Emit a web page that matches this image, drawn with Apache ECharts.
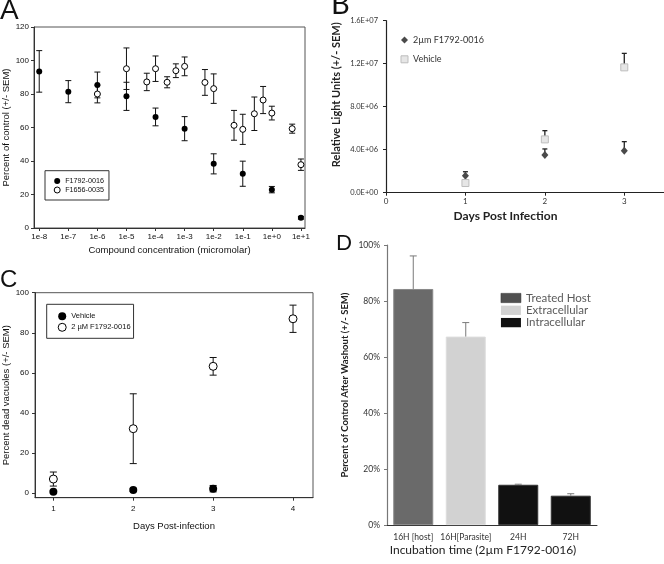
<!DOCTYPE html>
<html><head><meta charset="utf-8">
<script src="https://cdn.jsdelivr.net/npm/echarts@6/dist/echarts.min.js"></script>
<style>html,body{margin:0;padding:0;background:#fff}#c{width:664px;height:564px}</style>
</head><body><div id="c"></div>
<script>
// ---------- Panel A ----------
const aTickConc = [1e-8,1e-7,1e-6,1e-5,1e-4,1e-3,1e-2,1e-1,1,10];
const aTickLabels = ['1e-8','1e-7','1e-6','1e-5','1e-4','1e-3','1e-2','1e-1','1e+0','1e+1'];
const aConcF = [1e-8,1e-7,1e-6,1e-5,1e-4,1e-3,1e-2,1e-1,1,10];
const aValF  = [93.5,81.4,85.4,78.6,66.3,59.3,38.3,32.4,22.9,6.1];
const aErrF  = [12.4,6.6,7.7,8.4,5.3,7.2,6.0,7.5,1.9,0.8];
const aConcO = [1e-6,1e-5,5e-5,1e-4,2.5e-4,5e-4,1e-3,5e-3,1e-2,5e-2,1e-1,0.25,0.5,1,5,10];
const aValO  = [80.0,95.1,87.2,95.1,87.0,93.9,96.5,86.9,83.2,61.3,58.9,68.2,76.4,68.6,59.3,37.8];
const aErrO  = [5.3,12.4,5.2,7.6,3.3,4.1,5.6,7.7,8.8,8.9,9.0,10.0,8.1,4.1,2.7,3.4];
// ---------- Panel B ----------
const bDays = [1,2,3];
const bDrug = [1.58e6,3.51e6,3.91e6];
const bDrugErr = [0.37e6,0.56e6,0.84e6];
const bVeh = [0.9e6,4.96e6,1.166e7];
const bVehErr = [0.2e6,0.81e6,1.3e6];
// ---------- Panel C ----------
const cDaysVeh = [1,2,3];
const cVeh = [0.8,1.7,2.3];
const cVehErr = [0.5,0.8,1.6];
const cDaysDrug = [1,2,3,4];
const cDrug = [7.1,32.2,63.3,87.0];
const cDrugErr = [3.5,17.4,4.4,6.8];
const cTicksX = [1,2,3,4];
const cTicksY = [0,20,40,60,80,100];
// ---------- Panel D ----------
const dCats = ['16H [host]','16H[Parasite]','24H','72H'];
const dVals = [84.3,67.3,14.4,10.5];
const dErr  = [11.8,5.0,0.2,0.7];
const dGroup = ['Treated Host','Extracellular','Intracellular','Intracellular'];
const dGroups = ['Treated Host','Extracellular','Intracellular'];
const dColors = {'Treated Host':'#6a6a6a','Extracellular':'#d2d2d2','Intracellular':'#111111'};

const ARIAL = 'Liberation Sans';
const CAL = 'Lato';

function errSeries(xIdx, yIdx, xs, ys, errs, o) {
  return {
    type: 'custom', xAxisIndex: xIdx, yAxisIndex: yIdx, z: o.z || 1, silent: true,
    data: xs.map((x, i) => [x, ys[i], o.plusOnly ? ys[i] : ys[i] - errs[i], ys[i] + errs[i]]),
    encode: {x: 0, y: [1, 2, 3]},
    renderItem(params, api) {
      const x = api.value(0);
      const lo = api.coord([x, api.value(2)]);
      const hi = api.coord([x, api.value(3)]);
      const hw = o.cap / 2;
      const st = {stroke: o.color, lineWidth: o.lw || 1};
      const ch = [
        {type: 'line', shape: {x1: hi[0], y1: lo[1], x2: hi[0], y2: hi[1]}, style: st},
        {type: 'line', shape: {x1: hi[0] - hw, y1: hi[1], x2: hi[0] + hw, y2: hi[1]}, style: st}
      ];
      if (!o.plusOnly) ch.push({type: 'line', shape: {x1: lo[0] - hw, y1: lo[1], x2: lo[0] + hw, y2: lo[1]}, style: st});
      return {type: 'group', children: ch};
    }
  };
}

function sci(v) {
  if (v === 0) return '0.0E+00';
  const e = Math.floor(Math.log10(v) + 1e-9);
  const m = v / Math.pow(10, e);
  return m.toFixed(1) + 'E+' + (e < 10 ? '0' : '') + e;
}

const lg = v => Math.log10(v);
const aTickVals = aTickConc.map(lg);

const option = {
  animation: false,
  backgroundColor: '#fff',
  textStyle: {fontFamily: ARIAL},
  graphic: [
    {type: 'text', left: 0, top: -3, style: {text: 'A', font: '28px "Liberation Sans"', fill: '#111'}},
    {type: 'text', left: 331, top: -10, style: {text: 'B', font: '29px Lato', fill: '#111'}},
    {type: 'text', left: 0, top: 268, style: {text: 'C', font: '24px "Liberation Sans"', fill: '#111'}},
    {type: 'text', left: 336, top: 233, style: {text: 'D', font: '21px Lato', fill: '#111'}}
  ],
  grid: [
    {left: 33, top: 27, width: 272, height: 201, show: true, borderColor: '#555', borderWidth: 1, backgroundColor: 'transparent'},
    {left: 386, top: 20.7, width: 279, height: 172},
    {left: 35, top: 292.7, width: 278, height: 205, show: true, borderColor: '#555', borderWidth: 1, backgroundColor: 'transparent'},
    {left: 387, top: 245, width: 210, height: 287}
  ],
  xAxis: [
    {gridIndex: 0, type: 'value', min: -8.18, max: 1.14,
     axisLine: {onZero: false, lineStyle: {color: '#333'}}, splitLine: {show: false},
     axisTick: {customValues: aTickVals, length: 3, lineStyle: {color: '#333'}},
     axisLabel: {customValues: aTickVals, formatter: v => aTickLabels[aTickVals.findIndex(t => Math.abs(t - v) < 1e-6)], fontSize: 8, color: '#111', margin: 5},
     name: 'Compound concentration (micromolar)', nameLocation: 'middle', nameGap: 17,
     nameTextStyle: {fontSize: 9.5, color: '#111', fontFamily: ARIAL}},
    {gridIndex: 1, type: 'value', min: 0, max: 3.5,
     axisLine: {onZero: false, lineStyle: {color: '#222', width: 1.2}}, splitLine: {show: false},
     axisTick: {customValues: [0,1,2,3], length: 3, lineStyle: {color: '#222'}},
     axisLabel: {customValues: [0,1,2,3], fontSize: 8, color: '#333', margin: 5, fontFamily: CAL},
     name: 'Days Post Infection', nameLocation: 'middle', nameGap: 17,
     nameTextStyle: {fontSize: 12, fontWeight: 'bold', color: '#222', fontFamily: CAL, padding: [0, 39, 0, 0]}},
    {gridIndex: 2, type: 'value', min: 0.77, max: 4.25,
     axisLine: {onZero: false, lineStyle: {color: '#333'}}, splitLine: {show: false},
     axisTick: {customValues: cTicksX, length: 3, lineStyle: {color: '#333'}},
     axisLabel: {customValues: cTicksX, fontSize: 8, color: '#111', margin: 7},
     name: 'Days Post-infection', nameLocation: 'middle', nameGap: 24,
     nameTextStyle: {fontSize: 9.5, color: '#111', fontFamily: ARIAL}},
    {gridIndex: 3, type: 'category', data: dCats,
     axisLine: {onZero: false, lineStyle: {color: '#333', width: 1}}, axisTick: {show: false},
     axisLabel: {fontSize: 8.5, color: '#333', margin: 8, fontFamily: CAL, interval: 0},
     name: 'Incubation time (2µm F1792-0016)', nameLocation: 'middle', nameGap: 19,
     nameTextStyle: {fontSize: 12, color: '#222', fontFamily: CAL, padding: [0, 18, 0, 0]}}
  ],
  yAxis: [
    {gridIndex: 0, type: 'value', min: 0, max: 120, interval: 20,
     axisLine: {show: true, onZero: false, lineStyle: {color: '#333'}}, splitLine: {show: false},
     axisTick: {show: true, length: 3, lineStyle: {color: '#333'}},
     axisLabel: {fontSize: 8, color: '#111', margin: 5},
     name: 'Percent of control (+/- SEM)', nameLocation: 'middle', nameGap: 23,
     nameTextStyle: {fontSize: 9.5, color: '#111', fontFamily: ARIAL}},
    {gridIndex: 1, type: 'value', min: 0, max: 1.6e7, interval: 4e6,
     axisLine: {show: true, onZero: false, lineStyle: {color: '#222', width: 1.2}}, splitLine: {show: false},
     axisTick: {show: true, length: 3, lineStyle: {color: '#222'}},
     axisLabel: {formatter: sci, fontSize: 7.5, color: '#333', margin: 8, fontFamily: CAL},
     name: 'Relative Light Units (+/- SEM)', nameLocation: 'middle', nameGap: 44,
     nameTextStyle: {fontSize: 11, fontWeight: 'bold', color: '#222', fontFamily: CAL, padding: [0, 0, 0, 24]}},
    {gridIndex: 2, type: 'value', min: -2.2, max: 100,
     axisLine: {show: true, onZero: false, lineStyle: {color: '#333'}}, splitLine: {show: false},
     axisTick: {show: true, customValues: cTicksY, length: 3, lineStyle: {color: '#333'}},
     axisLabel: {customValues: cTicksY, fontSize: 8, color: '#111', margin: 6},
     name: 'Percent dead vacuoles (+/- SEM)', nameLocation: 'middle', nameGap: 24,
     nameTextStyle: {fontSize: 9.5, color: '#111', fontFamily: ARIAL}},
    {gridIndex: 3, type: 'value', min: 0, max: 100, interval: 20,
     axisLine: {show: true, onZero: false, lineStyle: {color: '#777', width: 1.2}}, splitLine: {show: false},
     axisTick: {show: true, length: 3, lineStyle: {color: '#777'}},
     axisLabel: {formatter: '{value}%', fontSize: 8.5, color: '#333', margin: 7, fontFamily: CAL},
     name: 'Percent of Control After Washout (+/- SEM)', nameLocation: 'middle', nameGap: 37,
     nameTextStyle: {fontSize: 9.5, fontWeight: 'bold', color: '#222', fontFamily: CAL}}
  ],
  legend: [
    {selectedMode: false, orient: 'vertical', left: 45, top: 170.7,
     padding: [6.3, 5, 6, 8.7], itemWidth: 6, itemHeight: 6, itemGap: 1, itemTextGap: 8,
     borderColor: '#333', borderWidth: 1,
     textStyle: {fontSize: 7.2, lineHeight: 8, color: '#111', fontFamily: ARIAL},
     data: [
       {name: 'F1792-0016', icon: 'circle', itemStyle: {color: '#000', borderWidth: 0}},
       {name: 'F1656-0035', icon: 'circle', itemStyle: {color: '#fff', borderColor: '#000', borderWidth: 1}}
     ]},
    {selectedMode: false, orient: 'vertical', left: 400.5, top: 35,
     padding: 0, itemWidth: 7, itemHeight: 7, itemGap: 9.3, itemTextGap: 2,
     textStyle: {fontSize: 9, lineHeight: 10, color: '#333', fontFamily: CAL},
     data: [
       {name: '2µm F1792-0016', icon: 'diamond', itemStyle: {color: '#4a4a4a'}},
       {name: 'Vehicle', icon: 'rect', itemStyle: {color: '#e6e6e6', borderColor: '#bdbdbd', borderWidth: 1}}
     ]},
    {selectedMode: false, orient: 'vertical', left: 46.7, top: 304.3,
     padding: [7.5, 3, 6.5, 11], itemWidth: 8, itemHeight: 8, itemGap: 2, itemTextGap: 7.6,
     borderColor: '#333', borderWidth: 1,
     textStyle: {fontSize: 7.5, lineHeight: 9, color: '#111', fontFamily: ARIAL},
     data: [
       {name: 'Vehicle', icon: 'circle', itemStyle: {color: '#000', borderWidth: 0}},
       {name: '2 µM F1792-0016', icon: 'circle', itemStyle: {color: '#fff', borderColor: '#000', borderWidth: 1}}
     ]},
    {selectedMode: false, orient: 'vertical', left: 500.7, top: 292,
     padding: 0, itemWidth: 20, itemHeight: 9.3, itemGap: 0.3, itemTextGap: 3.5,
     textStyle: {fontSize: 11.5, lineHeight: 12, color: '#5a5a5a', fontFamily: CAL},
     data: [
       {name: 'Treated Host', icon: 'rect', itemStyle: {color: '#505050', borderColor: '#333', borderWidth: 0.5}},
       {name: 'Extracellular', icon: 'rect', itemStyle: {color: '#d2d2d2', borderWidth: 0}},
       {name: 'Intracellular', icon: 'rect', itemStyle: {color: '#111', borderWidth: 0}}
     ]}
  ],
  series: [
    // A
    errSeries(0, 0, aConcF.map(lg), aValF, aErrF, {cap: 6, color: '#111', z: 1}),
    errSeries(0, 0, aConcO.map(lg), aValO, aErrO, {cap: 6, color: '#111', z: 1}),
    {name: 'F1792-0016', type: 'scatter', xAxisIndex: 0, yAxisIndex: 0, z: 3,
     symbol: 'circle', symbolSize: 6, itemStyle: {color: '#000', opacity: 1},
     data: aConcF.map((c, i) => [lg(c), aValF[i]])},
    {name: 'F1656-0035', type: 'scatter', xAxisIndex: 0, yAxisIndex: 0, z: 3,
     symbol: 'circle', symbolSize: 6, itemStyle: {color: '#fff', borderColor: '#000', borderWidth: 1, opacity: 1},
     data: aConcO.map((c, i) => [lg(c), aValO[i]])},
    // B
    errSeries(1, 1, bDays, bDrug, bDrugErr, {cap: 5, color: '#222', lw: 1.3, plusOnly: true, z: 1}),
    errSeries(1, 1, bDays, bVeh, bVehErr, {cap: 5, color: '#222', lw: 1.3, plusOnly: true, z: 1}),
    {name: '2µm F1792-0016', type: 'scatter', xAxisIndex: 1, yAxisIndex: 1, z: 3,
     symbol: 'diamond', symbolSize: [7, 8], itemStyle: {color: '#4a4a4a', opacity: 1},
     data: bDays.map((d, i) => [d, bDrug[i]])},
    {name: 'Vehicle', type: 'scatter', xAxisIndex: 1, yAxisIndex: 1, z: 3,
     symbol: 'rect', symbolSize: 7, itemStyle: {color: '#e6e6e6', borderColor: '#bdbdbd', borderWidth: 1, opacity: 1},
     data: bDays.map((d, i) => [d, bVeh[i]])},
    // C
    errSeries(2, 2, cDaysVeh, cVeh, cVehErr, {cap: 7, color: '#111', z: 1}),
    errSeries(2, 2, cDaysDrug, cDrug, cDrugErr, {cap: 7, color: '#111', z: 1}),
    {name: 'Vehicle', type: 'scatter', xAxisIndex: 2, yAxisIndex: 2, z: 3,
     symbol: 'circle', symbolSize: 8, itemStyle: {color: '#000', opacity: 1},
     data: cDaysVeh.map((d, i) => [d, cVeh[i]])},
    {name: '2 µM F1792-0016', type: 'scatter', xAxisIndex: 2, yAxisIndex: 2, z: 3,
     symbol: 'circle', symbolSize: 8, itemStyle: {color: '#fff', borderColor: '#000', borderWidth: 1, opacity: 1},
     data: cDaysDrug.map((d, i) => [d, cDrug[i]])},
    // D
    ...dGroups.map(g => ({
      name: g, type: 'bar', xAxisIndex: 3, yAxisIndex: 3, stack: 'd', barWidth: 40, z: 2,
      itemStyle: {color: dColors[g], borderColor: g === 'Treated Host' ? '#888' : (g === 'Intracellular' ? '#333' : '#ddd'), borderWidth: 1},
      data: dVals.map((v, i) => dGroup[i] === g ? v : '-')
    })),
    errSeries(3, 3, dCats.map((c, i) => i), dVals, dErr, {cap: 7, color: '#7a7a7a', plusOnly: true, z: 4})
  ]
};

const chart = echarts.init(document.getElementById('c'), null, {renderer: 'canvas'});
chart.setOption(option);
</script>
</body></html>
